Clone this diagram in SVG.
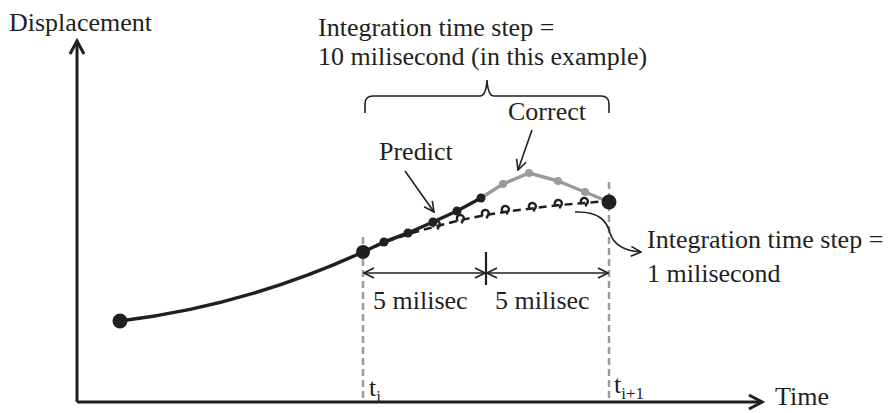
<svg xmlns="http://www.w3.org/2000/svg" width="889" height="413" viewBox="0 0 889 413">
<defs>
<style>
text{font-family:"Liberation Serif","Times New Roman",serif;font-size:26px;fill:#231f20}
.sub{font-size:17px}
.axis{stroke:#231f20;stroke-width:3;fill:none}
.thin{stroke:#231f20;stroke-width:1.6;fill:none}
.guide{stroke:#9a9a9a;stroke-width:2.5;stroke-dasharray:7,4;fill:none}
.blk{stroke:#231f20;stroke-width:3.5;fill:none;stroke-linejoin:round}
.gry{stroke:#9a9a9a;stroke-width:3.5;fill:none;stroke-linejoin:round}
.dash{stroke:#231f20;stroke-width:2.5;stroke-dasharray:8,5;fill:none}
.hook{stroke:#231f20;stroke-width:2.4;fill:none}
</style>
<path id="hk" d="M-3,3 A3.5,3.5 0 1,1 1,3.5 L1,5.5" class="hook"/>
<marker id="ah" viewBox="0 0 12 12" refX="11" refY="6" markerWidth="12" markerHeight="12" markerUnits="userSpaceOnUse" orient="auto-start-reverse">
<path d="M1,1 L11,6 L1,11" fill="none" stroke="#231f20" stroke-width="1.6"/>
</marker>
</defs>

<g id="axes">
<path class="axis" d="M77,402 V42"/>
<path class="axis" d="M70,54 L77,41 L84,54"/>
<path class="axis" d="M77,402 H761"/>
<path class="axis" d="M749,395 L762,402 L749,409"/>
<text x="9" y="31">Displacement</text>
<text x="775" y="405">Time</text>
</g>

<g id="guides">
<path class="guide" d="M363,237 V402"/>
<path class="guide" d="M609,182 V402"/>
<text x="369" y="396">t<tspan class="sub" dy="6">i</tspan></text>
<text x="614" y="393">t<tspan class="sub" dy="6">i+1</tspan></text>
</g>

<g id="history">
<path class="blk" d="M120,321 Q245,306 363,252"/>
<circle cx="120" cy="321" r="7.5" fill="#231f20"/>
</g>

<g id="corrector">
<polyline class="gry" points="481,198 503,184 529,173 558,181 585,192 609,202"/>
<g fill="#9a9a9a">
<circle cx="503" cy="184" r="4"/><circle cx="529" cy="173" r="4"/><circle cx="558" cy="181" r="4"/><circle cx="585" cy="192" r="4"/>
</g>
</g>

<g id="fine-steps">
<path class="dash" d="M363,252 L388,241 L412,233 L437,226 L461,220 L486,215 L511,211 L535,208 L560,205 L584,203 L609,201"/>
<use href="#hk" x="437" y="224"/>
<use href="#hk" x="461" y="218"/>
<use href="#hk" x="486" y="213"/>
<use href="#hk" x="506" y="209"/>
<use href="#hk" x="533" y="206"/>
<use href="#hk" x="559" y="203"/>
<use href="#hk" x="585" y="201"/>
</g>

<g id="predictor">
<polyline class="blk" points="363,252 384,242 408,233 433,222 457,211 481,198"/>
<g fill="#231f20">
<circle cx="384" cy="242" r="4.5"/><circle cx="408" cy="233" r="4.5"/><circle cx="433" cy="222" r="4.5"/><circle cx="457" cy="211" r="4.5"/><circle cx="481" cy="198" r="4.5"/>
</g>
<circle cx="363" cy="252" r="7" fill="#231f20"/>
<circle cx="609" cy="202" r="7.5" fill="#231f20"/>
</g>

<g id="labels">
<text x="318" y="36">Integration time step =</text>
<text x="318" y="65">10 milisecond (in this example)</text>
<text x="508" y="120">Correct</text>
<text x="379" y="160">Predict</text>
<text x="647" y="248">Integration time step =</text>
<text x="647" y="282">1 milisecond</text>
<text x="373" y="309">5 milisec</text>
<text x="495" y="309">5 milisec</text>
</g>

<g id="connectors">
<path class="thin" d="M365,113 V104 Q365,96 373,96 H480 Q486,96 487,80 Q488,96 494,96 H601 Q609,96 609,104 V113"/>
<path class="thin" d="M405,171 L434,212" marker-end="url(#ah)"/>
<path class="thin" d="M532,130 L518,170" marker-end="url(#ah)"/>
<path class="thin" d="M575,212 C600,211 607,222 610,233 C614,246 626,251 641,252" marker-end="url(#ah)"/>
<path class="thin" d="M364,273 H485" marker-start="url(#ah)" marker-end="url(#ah)"/>
<path class="thin" d="M487,273 H608" marker-start="url(#ah)" marker-end="url(#ah)"/>
<path class="axis" style="stroke-width:2.2" d="M486,252 V285"/>
</g>
</svg>
